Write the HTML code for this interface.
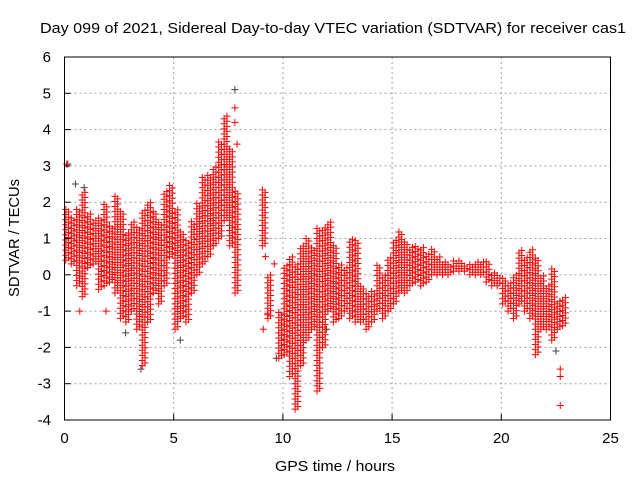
<!DOCTYPE html>
<html><head><meta charset="utf-8"><style>
body{margin:0;background:#fff;}
svg{display:block;font-family:"Liberation Sans",sans-serif;}
</style></head><body>
<svg id="chart" width="640" height="480" viewBox="0 0 640 480">
<rect width="640" height="480" fill="#fff"/>
<text x="333" y="33" font-size="15" text-anchor="middle" textLength="586" lengthAdjust="spacingAndGlyphs" fill="#000">Day 099 of 2021, Sidereal Day-to-day VTEC variation (SDTVAR) for receiver cas1</text>
<text transform="translate(19,238) rotate(-90)" font-size="15" text-anchor="middle" textLength="118" lengthAdjust="spacingAndGlyphs">SDTVAR / TECUs</text>
<text x="335" y="471" font-size="15" text-anchor="middle" textLength="120" lengthAdjust="spacingAndGlyphs">GPS time / hours</text>
<g id="grid"></g>
<g id="marks"></g>
<rect x="64.5" y="57" width="546" height="363" fill="none" stroke="#000" stroke-width="1"/>
<g id="ticks"></g>
</svg>
<script>
const xTicks=[0,5,10,15,20,25];
const yTicks=[-4,-3,-2,-1,0,1,2,3,4,5,6];
const binStarts=[0,0.25,0.5,0.75,1,1.25,1.5,1.75,2,2.25,2.5,2.75,3,3.25,3.5,3.75,4,4.25,4.5,4.75,5,5.25,5.5,5.75,6,6.25,6.5,6.75,7,7.25,7.5,7.75,9,9.25,9.75,10,10.25,10.5,10.75,11,11.25,11.5,11.75,12,12.25,12.5,12.75,13,13.25,13.5,13.75,14,14.25,14.5,14.75,15,15.25,15.5,15.75,16,16.25,16.5,16.75,17,17.25,17.5,17.75,18,18.25,18.5,18.75,19,19.25,19.5,19.75,20,20.25,20.5,20.75,21,21.25,21.5,21.75,22,22.25,22.5,22.75];
const binLows=[0.4,0.3,-0.3,-0.6,0.2,0.3,-0.4,-0.3,-0.2,-0.5,-1.2,-1.3,-1.0,-1.5,-2.5,-1.3,-0.5,-0.8,-0.3,0.5,-1.5,-1.2,-1.3,-0.5,0.0,0.3,0.5,0.8,1.0,1.5,0.8,-0.5,0.8,-1.2,-2.3,-2.2,-2.8,-3.7,-2.5,-1.8,-1.5,-3.2,-2.0,-1.0,-1.3,-1.2,-1.0,-1.2,-1.3,-1.3,-1.5,-1.3,-1.0,-1.2,-1.0,-0.8,-0.5,-0.5,-0.3,-0.2,-0.3,-0.2,0.0,0.0,0.0,0.0,0.1,0.1,0.1,0.0,0.0,0.0,-0.2,-0.3,-0.3,-0.8,-1.0,-1.2,-0.8,-1.0,-1.2,-2.2,-1.5,-1.5,-1.8,-1.5,-1.4];
const binHighs=[1.8,1.6,1.8,2.3,1.7,1.5,1.6,2.0,1.4,2.2,1.8,1.2,1.5,1.3,1.8,2.0,1.8,1.5,2.3,2.5,1.8,1.2,1.0,1.5,2.0,2.7,2.8,3.0,3.7,4.4,3.5,2.3,2.4,0.0,-1.0,0.3,0.5,0.3,0.8,1.0,0.8,1.3,1.3,1.5,0.8,0.3,0.2,1.0,1.0,-0.3,-0.5,-0.4,0.3,0.0,0.5,1.0,1.2,0.9,0.8,0.8,0.8,0.6,0.7,0.5,0.4,0.3,0.4,0.4,0.3,0.3,0.4,0.4,0.4,0.1,0.0,-0.1,-0.2,0.0,0.7,0.5,0.7,0.5,0.0,-0.3,0.2,-0.7,-0.6];
const extraTimes=[0.1,7.8,7.8,7.9,22.7,22.7,22.7,0.7,1.9,9.2,9.6,9.1,9.3];
const extraValues=[3.05,4.6,4.2,3.6,-3.6,-2.6,-2.8,-1.0,-1.0,0.5,0.3,-1.5,-1.1];
const grayTimes=[0.5,0.9,3.5,5.3,9.7,12.0,22.5,7.8,0.15,2.8];
const grayValues=[2.5,2.4,-2.6,-1.8,-2.3,-1.5,-2.1,5.1,3.05,-1.6];

const X0=64.5,X1=610.5,Y0=420,Y1=57;
const xs=t=>X0+(t-0)/(25-0)*(X1-X0);
const ys=v=>Y0-(v+4)/(6+4)*(Y0-Y1);
const NS='http://www.w3.org/2000/svg';
const grid=document.getElementById('grid'),marks=document.getElementById('marks'),ticks=document.getElementById('ticks');
xTicks.forEach(t=>{
  if(t>0&&t<25){const l=document.createElementNS(NS,'line');
  
  
  l.setAttribute('x1',xs(t));l.setAttribute('x2',xs(t));l.setAttribute('y1',Y1);l.setAttribute('y2',Y0);
  l.setAttribute('stroke','#a0a0a0');l.setAttribute('stroke-dasharray','2,3');grid.appendChild(l);}
  const tk=document.createElementNS(NS,'line');
  
  
  tk.setAttribute('x1',xs(t));tk.setAttribute('x2',xs(t));tk.setAttribute('y1',Y0);tk.setAttribute('y2',Y0-6);tk.setAttribute('stroke','#000');ticks.appendChild(tk);
  const tx=document.createElementNS(NS,'text');
  
  
  tx.setAttribute('x',xs(t));tx.setAttribute('y',443);tx.setAttribute('font-size','15');tx.setAttribute('text-anchor','middle');tx.textContent=t;ticks.appendChild(tx);
});
yTicks.forEach(v=>{
  if(v>-4&&v<6){const l=document.createElementNS(NS,'line');
  
  
  l.setAttribute('x1',X0);l.setAttribute('x2',X1);l.setAttribute('y1',ys(v));l.setAttribute('y2',ys(v));
  l.setAttribute('stroke','#a0a0a0');l.setAttribute('stroke-dasharray','2,3');grid.appendChild(l);}
  const tk=document.createElementNS(NS,'line');
  
  
  tk.setAttribute('x1',X0);tk.setAttribute('x2',X0+6);tk.setAttribute('y1',ys(v));tk.setAttribute('y2',ys(v));tk.setAttribute('stroke','#000');ticks.appendChild(tk);
  const tx=document.createElementNS(NS,'text');
  
  
  tx.setAttribute('x',51);tx.setAttribute('y',ys(v)+5);tx.setAttribute('font-size','15');tx.setAttribute('text-anchor','end');tx.textContent=v;ticks.appendChild(tx);
});
function plus(t,v,color,name){
  const x=xs(t),y=ys(v);
  const p=document.createElementNS(NS,'path');
  
  
  p.setAttribute('d','M'+(x-3.5)+' '+y+'h7M'+x+' '+(y-3.5)+'v7');
  p.setAttribute('stroke',color);p.setAttribute('fill','none');p.setAttribute('stroke-width','1');
  marks.appendChild(p);
}
grayTimes.forEach((t,i)=>plus(t,grayValues[i],'#404040','gray-point'));
binStarts.forEach((t,i)=>{
  const lo=binLows[i],hi=binHighs[i];
  [0,0.125].forEach((dt,k)=>{
    for(let v=lo+k*0.07;v<=hi+1e-9;v+=0.14){plus(t+dt+0.06,v,'#ff0000','red-point');}
  });
});
extraTimes.forEach((t,i)=>plus(t,extraValues[i],'#ff0000','red-point'));
</script>
</body></html>
